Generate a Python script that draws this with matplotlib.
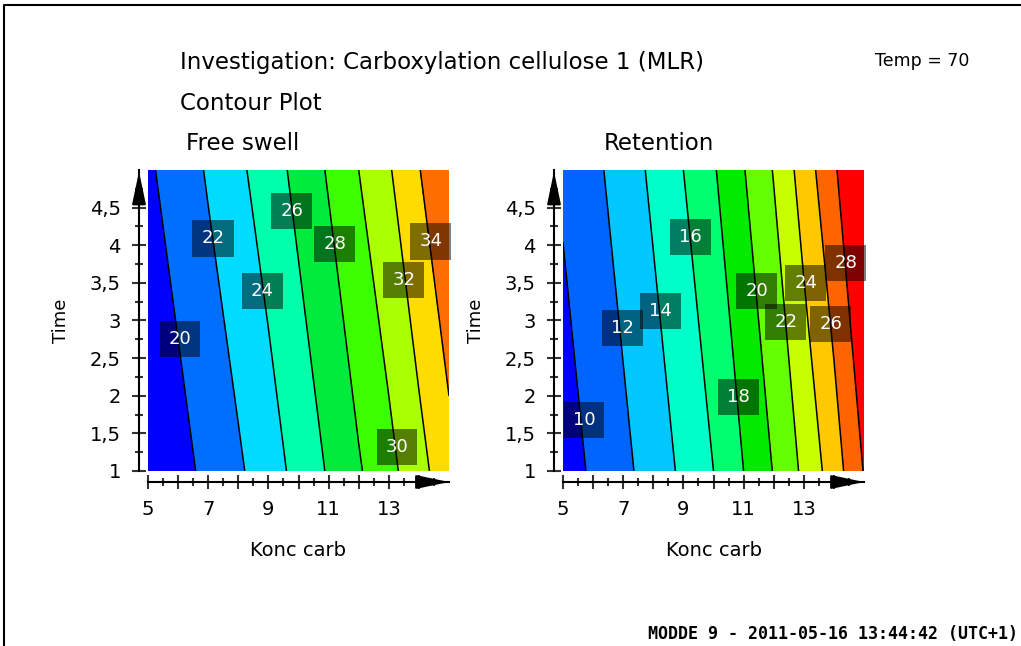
import matplotlib
matplotlib.use("Agg")
import matplotlib.pyplot as plt
from matplotlib.transforms import ScaledTranslation
from matplotlib.lines import Line2D

plt.rcParams['font.family'] = ['DejaVu Sans']

W, H = 1021, 646

konc = [5, 6, 7, 8, 9, 10, 11, 12, 13, 14, 15]
time = [1, 5]

swell_z = [
    [18.1, 19.3, 20.5, 21.7, 23.1, 24.6, 26.2, 27.8, 29.4, 31.3, 33.3],
    [19.7, 20.9, 22.2, 23.6, 25.0, 26.6, 28.2, 30.0, 31.8, 33.9, 36.1],
]
swell_levels = [20, 22, 24, 26, 28, 30, 32, 34]
swell_colors = ['#0000ff', '#006eff', '#00dcff', '#00ffaa', '#00eb3c',
                '#3cff00', '#aaff00', '#ffdc00', '#ff6e00']
swell_lab_x = [6.06, 7.16, 8.79, 9.78, 11.21, 13.27, 13.5, 14.4]
swell_lab_y = [2.76, 4.09, 3.39, 4.46, 4.02, 1.32, 3.54, 4.05]

ret_z = [
    [9.05, 10.3, 11.5, 12.9, 14.4, 16.0, 18.0, 20.1, 22.4, 25.0, 28.1],
    [10.3, 11.5, 12.9, 14.4, 16.0, 17.8, 19.9, 22.1, 24.9, 27.7, 30.6],
]
ret_levels = [10, 12, 14, 16, 18, 20, 22, 24, 26, 28]
ret_colors = ['#0000ff', '#0064ff', '#00c8ff', '#00ffc8', '#00ff6e',
              '#00eb00', '#64ff00', '#c8ff00', '#ffc800', '#ff6400', '#ff0000']
ret_lab_x = [5.7, 6.97, 8.23, 9.23, 10.83, 11.43, 12.4, 13.07, 13.9, 14.4]
ret_lab_y = [1.68, 2.9, 3.13, 4.11, 1.98, 3.39, 2.98, 3.5, 2.95, 3.77]

x_major = [5, 6, 7, 8, 9, 10, 11, 12, 13, 14]
x_labels = ['5', '', '7', '', '9', '', '11', '', '13', '']
x_minor = [5.5, 6.5, 7.5, 8.5, 9.5, 10.5, 11.5, 12.5, 13.5, 14.5]
y_major = [1, 1.5, 2, 2.5, 3, 3.5, 4, 4.5]
y_labels = ['1', '1,5', '2', '2,5', '3', '3,5', '4', '4,5']
y_minor = [1.25, 1.75, 2.25, 2.75, 3.25, 3.75, 4.25, 4.75]


def contour_panel(fig, left_px, z, levels, colors, lab_x, lab_y):
    ax = fig.add_axes([left_px / W, (H - 471) / H, 301 / W, 301 / H])
    lo, hi = -1000, 1000
    ax.contourf(konc, time, z, levels=[lo] + levels + [hi], colors=colors)
    ax.contour(konc, time, z, levels=levels, colors='black', linewidths=1.1)
    for lev, lx, ly in zip(levels, lab_x, lab_y):
        ax.text(lx, ly, str(lev), color='white', fontsize=13, ha='center', va='center',
                clip_on=False,
                bbox=dict(boxstyle='square,pad=0.5', fc=(0, 0, 0, 0.5), ec='none'))
    ax.set_xlim(5, 15)
    ax.set_ylim(1, 5)

    for s in ['top', 'right']:
        ax.spines[s].set_visible(False)
    ax.spines['bottom'].set_position(('outward', 8))
    ax.spines['left'].set_position(('outward', 6.5))
    ax.spines['bottom'].set_linewidth(1.5)
    ax.spines['left'].set_linewidth(1.5)

    ax.set_xticks(x_major)
    ax.set_xticklabels(x_labels)
    ax.set_xticks(x_minor, minor=True)
    ax.set_yticks(y_major)
    ax.set_yticklabels(y_labels)
    ax.set_yticks(y_minor, minor=True)
    ax.tick_params(which='major', direction='inout', length=10, width=1.5,
                   color='#333333', labelsize=14)
    ax.tick_params(axis='x', which='major', pad=8)
    ax.tick_params(axis='y', which='major', pad=8)
    ax.tick_params(which='minor', direction='inout', length=6, width=1.5,
                   color='#333333')

    # arrow heads at the end of the axis lines
    tx = ax.transAxes + ScaledTranslation(0, -0.11, fig.dpi_scale_trans)
    ax.annotate('', xy=(1.0, 0), xytext=(0.9, 0), xycoords=tx, textcoords=tx,
                arrowprops=dict(arrowstyle='-|>,head_length=2.0,head_width=0.42',
                                mutation_scale=10, color='black', lw=1.5,
                                shrinkA=0, shrinkB=0), annotation_clip=False)
    ty = ax.transAxes + ScaledTranslation(-0.09, 0, fig.dpi_scale_trans)
    ax.annotate('', xy=(0, 0.995), xytext=(0, 0.9), xycoords=ty, textcoords=ty,
                arrowprops=dict(arrowstyle='-|>,head_length=2.0,head_width=0.42',
                                mutation_scale=10, color='black', lw=1.5,
                                shrinkA=0, shrinkB=0), annotation_clip=False)

    ax.set_xlabel('Konc carb', fontsize=14, labelpad=15.5)
    ax.set_ylabel('Time', fontsize=13, labelpad=14)
    return ax


fig = plt.figure(figsize=(W / 100, H / 100), dpi=100)

contour_panel(fig, 148, swell_z, swell_levels, swell_colors, swell_lab_x, swell_lab_y)
contour_panel(fig, 563, ret_z, ret_levels, ret_colors, ret_lab_x, ret_lab_y)

fig.text(180 / W, 1 - 63 / H, 'Investigation: Carboxylation cellulose 1 (MLR)',
         fontsize=16.5, va='center', ha='left')
fig.text(180 / W, 1 - 103 / H, 'Contour Plot', fontsize=16.5, va='center', ha='left')
fig.text(186 / W, 1 - 143 / H, 'Free swell', fontsize=16.5, va='center', ha='left')
fig.text(604 / W, 1 - 143 / H, 'Retention', fontsize=16.5, va='center', ha='left')
fig.text(875 / W, 1 - 61 / H, 'Temp = 70', fontsize=12.5, va='center', ha='left')
fig.text(1018 / W, 1 - 634 / H, 'MODDE 9 - 2011-05-16 13:44:42 (UTC+1)',
         family='DejaVu Sans Mono', fontsize=12, fontweight='bold', va='center', ha='right')

# frame lines of the page
fig.add_artist(Line2D([4 / W, 4 / W, 1], [0, 1 - 5 / H, 1 - 5 / H],
                      transform=fig.transFigure, color='black', lw=1.5))

fig.savefig('out.png', dpi=100)
